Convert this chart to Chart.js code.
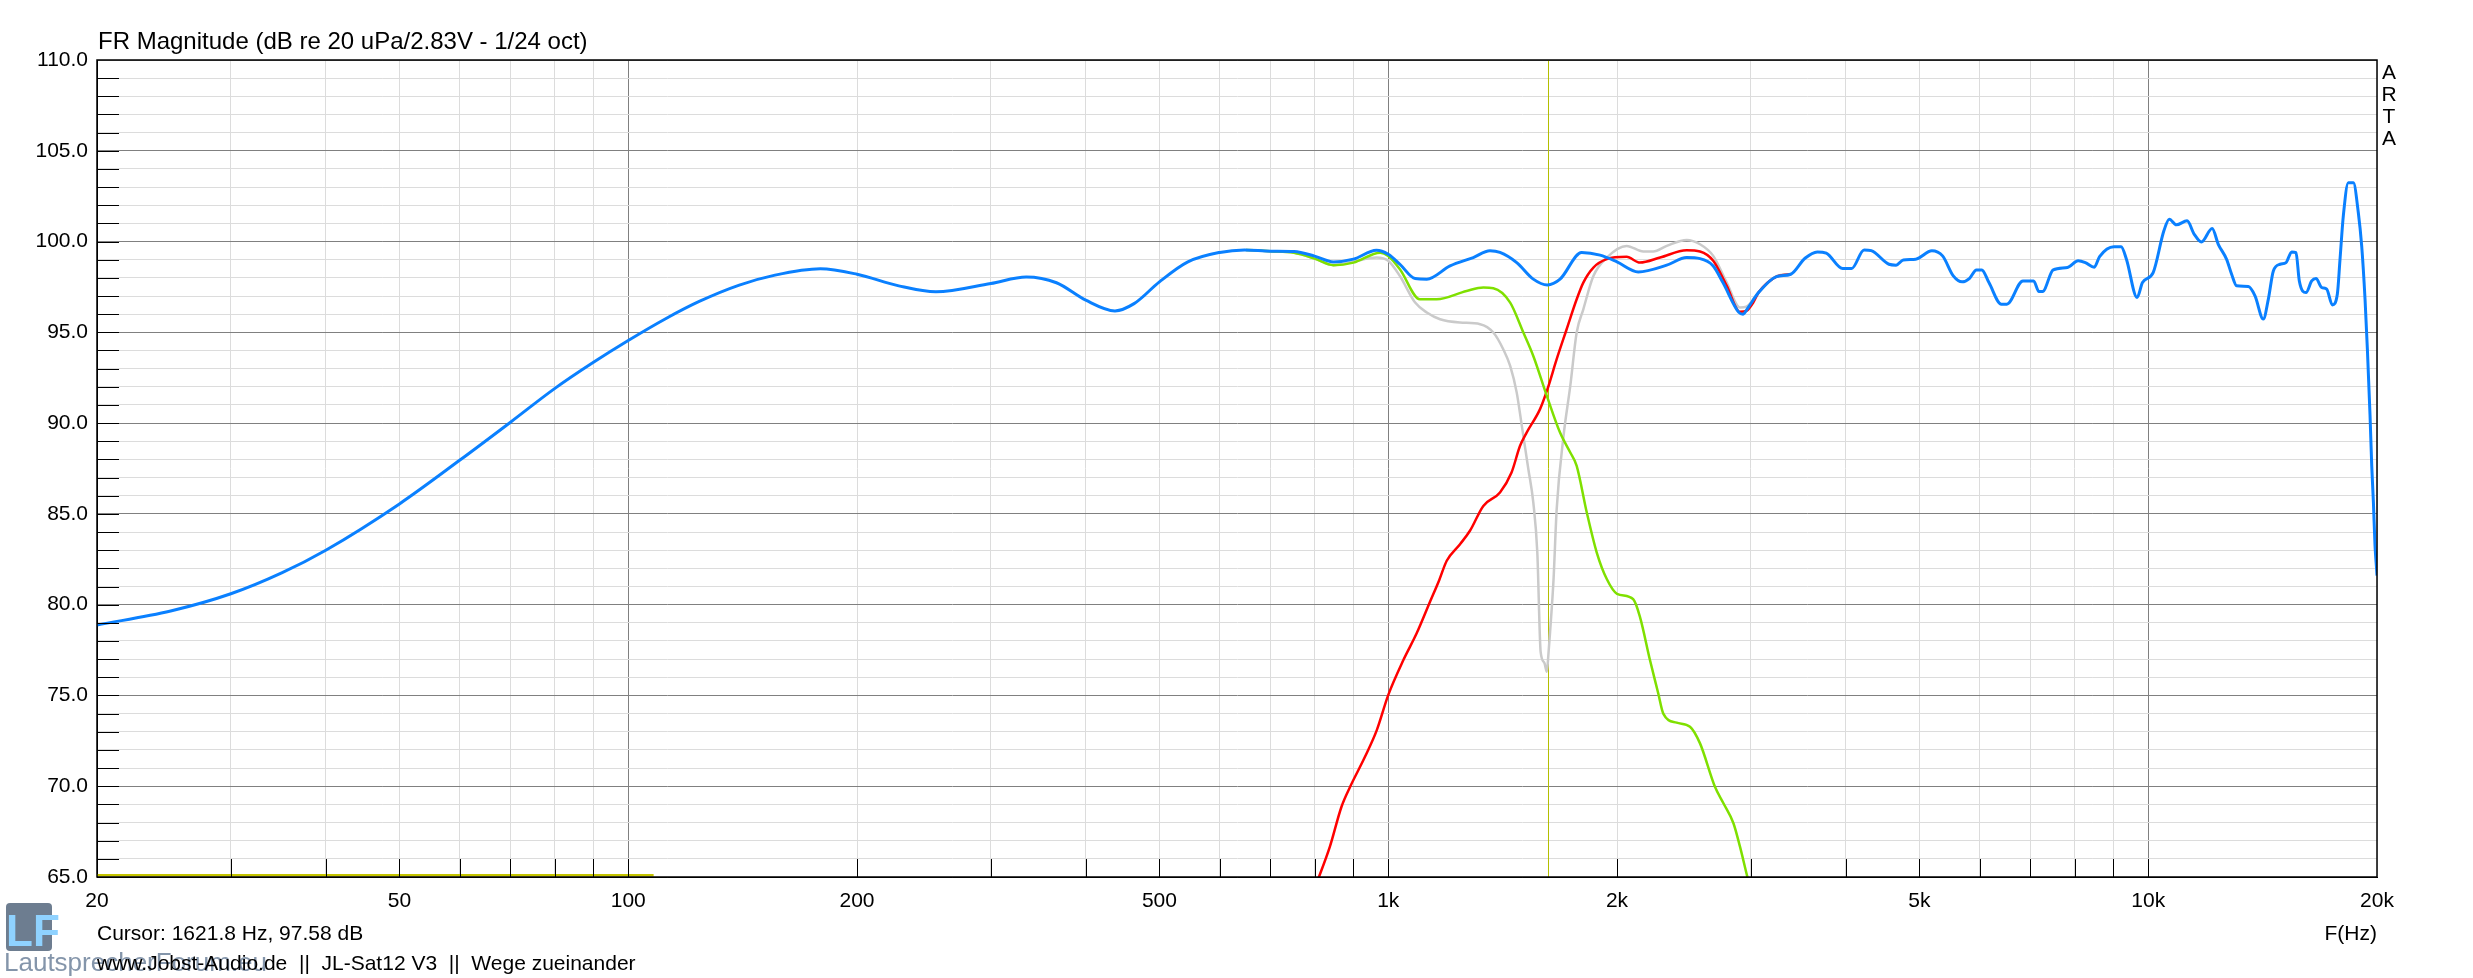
<!DOCTYPE html>
<html>
<head>
<meta charset="utf-8">
<title>FR Magnitude</title>
<script src="https://cdn.jsdelivr.net/npm/chart.js@4.4.1/dist/chart.umd.min.js"></script>
<style>
  html, body { margin: 0; padding: 0; background: #fff; }
  #wrap { width: 2473px; height: 978px; }
</style>
</head>
<body>
<div id="wrap"><canvas id="fr" width="2473" height="978"></canvas></div>
<script>
// summed response (blue)
const sumHz = [20, 25, 30, 35, 40, 50, 60, 70, 80, 90, 100, 112, 124, 140, 156, 179, 200, 227, 254, 300, 334, 366, 400, 437, 463, 500, 545, 600, 647, 700, 752, 800, 847, 900, 965, 1000, 1036, 1085, 1124, 1206, 1294, 1361, 1403, 1476, 1552, 1620, 1683, 1797, 1900, 2000, 2133, 2325, 2470, 2572, 2677, 2757, 2893, 2930, 2974, 3071, 3243, 3386, 3535, 3670, 3770, 3962, 4071, 4228, 4321, 4559, 4659, 4761, 4944, 5192, 5363, 5540, 5691, 5816, 5943, 6040, 6172, 6409, 6515, 6841, 7066, 7181, 7260, 7499, 7831, 8088, 8266, 8492, 8630, 9012, 9211, 9361, 9669, 9828, 10151, 10486, 10659, 10890, 11249, 11497, 11749, 12137, 12365, 12681, 12875, 13072, 13543, 13820, 14172, 14390, 14610, 14909, 15182, 15446, 15647, 15806, 16130, 16411, 16625, 16914, 17173, 17469, 17735, 17880, 18060, 18336, 18617, 18900, 19093, 19288, 19425, 19583, 19683, 19783, 19880, 19980, 20000];
const sumDb = [78.88, 79.65, 80.6, 81.75, 83.0, 85.55, 87.95, 90.05, 91.9, 93.35, 94.55, 95.75, 96.7, 97.6, 98.15, 98.5, 98.2, 97.56, 97.23, 97.69, 98.05, 97.73, 96.77, 96.18, 96.58, 97.78, 98.88, 99.4, 99.54, 99.47, 99.45, 99.2, 98.88, 99.03, 99.52, 99.3, 98.75, 97.96, 97.93, 98.66, 99.12, 99.49, 99.4, 98.84, 97.93, 97.61, 97.93, 99.4, 99.25, 98.88, 98.33, 98.7, 99.12, 99.06, 98.66, 97.74, 96.1, 96.0, 96.35, 97.19, 98.07, 98.2, 99.08, 99.43, 99.36, 98.51, 98.51, 99.54, 99.5, 98.75, 98.7, 98.99, 99.03, 99.49, 99.21, 98.11, 97.78, 97.96, 98.44, 98.44, 97.74, 96.55, 96.55, 97.83, 97.83, 97.25, 97.25, 98.44, 98.57, 98.94, 98.84, 98.59, 99.17, 99.71, 99.71, 99.03, 96.92, 97.74, 98.29, 100.59, 101.23, 100.92, 101.14, 100.4, 99.98, 100.72, 99.85, 99.02, 98.2, 97.56, 97.52, 97.01, 95.73, 96.83, 98.38, 98.75, 98.84, 99.43, 99.39, 97.83, 97.19, 97.83, 97.96, 97.47, 97.38, 96.51, 97.1, 99.02, 101.41, 103.24, 103.24, 101.59, 99.76, 96.83, 94.08, 90.41, 87.66, 85.65, 83.26, 81.89, 81.6];

// woofer (green)
const wooferHz = [650, 700, 752, 800, 847, 900, 976, 1000, 1036, 1101, 1158, 1268, 1334, 1375, 1447, 1506, 1552, 1617, 1683, 1736, 1770, 1825, 1881, 1939, 2000, 2101, 2144, 2210, 2266, 2301, 2396, 2495, 2572, 2691, 2761, 2846, 2903, 2968, 3030];
const wooferDb = [99.54, 99.47, 99.38, 99.06, 98.7, 98.84, 99.39, 99.21, 98.48, 96.82, 96.82, 97.28, 97.47, 97.43, 96.64, 94.99, 93.7, 91.5, 89.48, 88.38, 87.65, 85.08, 82.87, 81.41, 80.6, 80.3, 79.33, 76.95, 75.12, 74.0, 73.5, 73.28, 72.36, 69.97, 69.06, 67.96, 66.67, 65.02, 63.6];

// tweeter (red)
const tweeterHz = [790, 811, 838, 868, 891, 932, 966, 1000, 1047, 1090, 1135, 1167, 1194, 1243, 1281, 1334, 1403, 1453, 1491, 1521, 1584, 1620, 1666, 1717, 1770, 1806, 1862, 1939, 2059, 2144, 2279, 2470, 2572, 2677, 2789, 2903, 2960, 3022, 3071, 3243, 3386];
const tweeterDb = [63.8, 65.02, 66.67, 68.87, 69.97, 71.62, 73.09, 75.02, 76.95, 78.42, 80.16, 81.35, 82.42, 83.33, 84.07, 85.44, 86.18, 87.28, 88.75, 89.48, 90.77, 91.87, 93.52, 95.17, 96.82, 97.74, 98.57, 99.03, 99.16, 98.84, 99.12, 99.52, 99.45, 98.94, 97.56, 96.13, 96.18, 96.64, 97.19, 98.07, 98.2];

// sum with one way inverted (grey)
const invHz = [650, 700, 752, 800, 847, 900, 965, 1000, 1036, 1085, 1124, 1170, 1243, 1321, 1375, 1417, 1447, 1476, 1499, 1529, 1552, 1571, 1587, 1605, 1617, 1625, 1633, 1650, 1666, 1701, 1736, 1770, 1806, 1862, 1939, 2059, 2166, 2232, 2325, 2470, 2572, 2677, 2789, 2903, 2960, 3084, 3243, 3386];
const invDb = [99.54, 99.47, 99.38, 99.06, 98.7, 98.9, 99.12, 98.94, 98.1, 96.64, 96.09, 95.72, 95.54, 95.45, 94.99, 94.07, 93.15, 91.68, 89.85, 87.46, 85.63, 82.87, 77.4, 76.8, 76.3, 77.3, 78.5, 81.35, 85.26, 89.3, 92.05, 94.99, 96.27, 98.1, 99.12, 99.76, 99.45, 99.45, 99.76, 100.09, 99.85, 99.21, 97.74, 96.37, 96.42, 97.28, 98.1, 98.22];

// yellow marker line at the bottom
const markerHz = [20, 108];
const markerDb = [65.1, 65.1];

// axes
const xGridValues = [20, 30, 40, 50, 60, 70, 80, 90, 100, 200, 300, 400, 500, 600, 700, 800, 900, 1000, 2000, 3000, 4000, 5000, 6000, 7000, 8000, 9000, 10000, 20000];
const xTickValues = [20, 50, 100, 200, 500, 1000, 2000, 5000, 10000, 20000];
const xTickLabels = ['20', '50', '100', '200', '500', '1k', '2k', '5k', '10k', '20k'];
const xMajorValues = [100, 1000, 10000];
const yLabelValues = [65, 70, 75, 80, 85, 90, 95, 100, 105, 110];

const cursorHz = 1621.8;
const cursorDb = 97.58;

const FONT = "'Liberation Sans', Arial, sans-serif";
Chart.defaults.font.family = FONT;
Chart.defaults.color = '#000';

const pts = (xs, ys) => xs.map((x, i) => ({ x: x, y: ys[i] }));

const decor = {
    id: 'decor',
    beforeDatasetsDraw(chart) {
        const { ctx, chartArea: a, scales } = chart;
        const cx = Math.round(scales.x.getPixelForValue(cursorHz)) + 0.5;
        ctx.save();
        ctx.strokeStyle = '#b4bf00';
        ctx.lineWidth = 1;
        ctx.beginPath();
        ctx.moveTo(cx, a.top);
        ctx.lineTo(cx, a.bottom);
        ctx.stroke();
        ctx.restore();
    },
    afterDraw(chart) {
        const { ctx, chartArea: a, scales } = chart;
        ctx.save();
        // inward tick marks
        ctx.strokeStyle = '#000';
        ctx.lineWidth = 1;
        ctx.beginPath();
        for (let v = 66; v < 110; v++) {
            const y = Math.round(scales.y.getPixelForValue(v)) + 0.5;
            ctx.moveTo(a.left, y);
            ctx.lineTo(a.left + 22, y);
        }
        xGridValues.forEach(v => {
            if (v === 20 || v === 20000) return;
            const x = Math.round(scales.x.getPixelForValue(v)) + 0.5;
            ctx.moveTo(x, a.bottom);
            ctx.lineTo(x, a.bottom - 18);
        });
        ctx.stroke();
        // frame
        ctx.lineWidth = 1.5;
        ctx.strokeRect(a.left, a.top, a.right - a.left, a.bottom - a.top);

        // texts
        ctx.fillStyle = '#000';
        ctx.textBaseline = 'alphabetic';
        ctx.textAlign = 'left';
        ctx.font = '24px ' + FONT;
        ctx.fillText('FR Magnitude (dB re 20 uPa/2.83V - 1/24 oct)', 98, 49);

        ctx.font = '21px ' + FONT;
        ctx.fillText('Cursor: ' + cursorHz.toFixed(1) + ' Hz, ' + cursorDb.toFixed(2) + ' dB', 97, 940);

        ctx.textAlign = 'right';
        ctx.fillText('F(Hz)', a.right, 940);

        ctx.textAlign = 'center';
        ['A', 'R', 'T', 'A'].forEach((ch, i) => ctx.fillText(ch, 2389, 79 + i * 22));

        // logo
        ctx.fillStyle = '#6d7d90';
        ctx.beginPath();
        ctx.roundRect(6, 903, 46, 48, 4);
        ctx.fill();
        ctx.fillStyle = '#8fd2ff';
        ctx.textAlign = 'left';
        ctx.font = 'bold 44px ' + FONT;
        ctx.fillText('LF', 6, 946);
        ctx.fillStyle = 'rgba(110,130,155,0.85)';
        ctx.font = '26px ' + FONT;
        ctx.fillText('LautsprecherForum.eu', 4, 971);

        ctx.fillStyle = '#000';
        ctx.font = '21px ' + FONT;
        ctx.fillText('www.Jobst-Audio.de  ||  JL-Sat12 V3  ||  Wege zueinander', 97, 970);
        ctx.restore();
    }
};

new Chart(document.getElementById('fr'), {
    type: 'line',
    data: {
        datasets: [
            { data: pts(sumHz, sumDb), borderColor: '#0a80ff', borderWidth: 3 },
            { data: pts(wooferHz, wooferDb), borderColor: '#7fe000', borderWidth: 2.5 },
            { data: pts(tweeterHz, tweeterDb), borderColor: '#ff0000', borderWidth: 2.5 },
            { data: pts(invHz, invDb), borderColor: '#cacaca', borderWidth: 2.5 },
            { data: pts(markerHz, markerDb), borderColor: '#c4c400', borderWidth: 2.5 }
        ]
    },
    options: {
        responsive: false,
        animation: false,
        devicePixelRatio: 1,
        layout: { padding: { top: 60, right: 96, bottom: 0, left: 0 } },
        elements: {
            point: { radius: 0 },
            line: { cubicInterpolationMode: 'monotone', fill: false }
        },
        plugins: {
            legend: { display: false },
            tooltip: { enabled: false }
        },
        scales: {
            x: {
                type: 'logarithmic',
                min: 20,
                max: 20000,
                afterBuildTicks: s => { s.ticks = xGridValues.map(v => ({ value: v })); },
                afterFit: s => { s.height = 101; },
                grid: {
                    drawTicks: false,
                    color: c => xMajorValues.includes(c.tick && c.tick.value) ? '#808080' : '#dcdcdc'
                },
                border: { color: '#000' },
                ticks: {
                    autoSkip: false,
                    maxRotation: 0,
                    padding: 12,
                    font: { size: 21 },
                    callback: v => {
                        const i = xTickValues.indexOf(v);
                        return i >= 0 ? xTickLabels[i] : '';
                    }
                }
            },
            y: {
                min: 65,
                max: 110,
                afterFit: s => { s.width = 97; },
                grid: {
                    drawTicks: false,
                    color: c => (c.tick && c.tick.value % 5 === 0) ? '#808080' : '#dcdcdc'
                },
                border: { color: '#000' },
                ticks: {
                    stepSize: 1,
                    autoSkip: false,
                    padding: 9,
                    font: { size: 21 },
                    callback: v => yLabelValues.includes(v) ? v.toFixed(1) : ''
                }
            }
        }
    },
    plugins: [decor]
});
</script>
</body>
</html>
